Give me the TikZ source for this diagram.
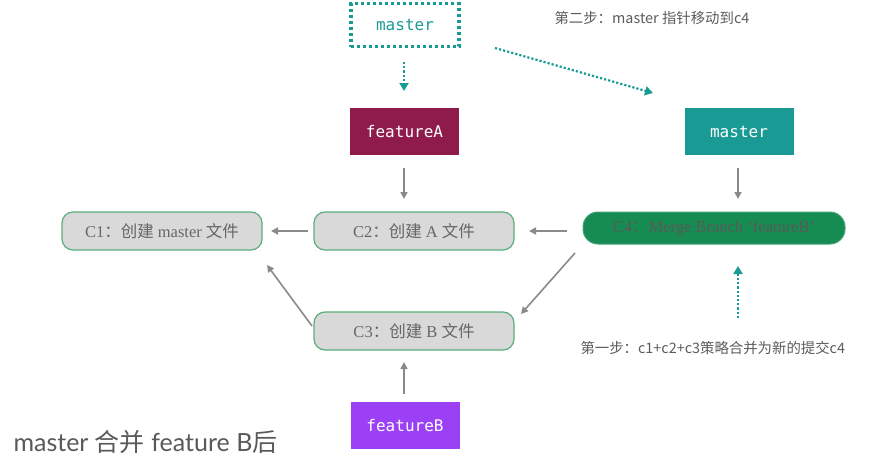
\documentclass[tikz,border=0pt]{standalone}
\usepackage{fontspec}
\setmainfont{Liberation Serif}
\setmonofont{DejaVu Sans Mono}
\newfontfamily\cjk{Noto Sans CJK SC}
\newfontfamily\latofont{Lato}
\usetikzlibrary{arrows.meta}
\definecolor{teal1}{HTML}{1A9A95}
\definecolor{fa}{HTML}{8E1B4B}
\definecolor{fb}{HTML}{9B40F5}
\definecolor{c4g}{HTML}{168C52}
\definecolor{boxfill}{HTML}{D9D9D9}
\definecolor{boxline}{HTML}{5AAE7A}
\definecolor{arrowgray}{HTML}{8A8A8A}
\definecolor{txtgray}{HTML}{666666}
\newcommand{\zh}[1]{{\cjk #1}}
\begin{document}
\begin{tikzpicture}[x=1pt,y=-1pt,
  commit/.style={draw=boxline, line width=1.2pt, fill=boxfill, rounded corners=11pt,
     minimum width=200pt, minimum height=38pt, text=txtgray, font=\fontsize{16.5}{19}\selectfont},
  branch/.style={minimum width=109pt, minimum height=47pt, text=white, font=\ttfamily\fontsize{16}{19}\selectfont},
  grayarrow/.style={draw=arrowgray, line width=1.6pt, -{Triangle[length=7pt,width=7pt]}},
  dotarrow/.style={draw=teal1, line width=2.2pt, dotted, -{Triangle[length=8pt,width=9pt]}},
  steplabel/.style={text=txtgray!90!black, font=\cjk\fontsize{14.4}{17}\selectfont}
]
\useasboundingbox (0,0) rectangle (873,463);
% top master (dotted)
\node[branch, draw=teal1, line width=3.2pt, dash pattern=on 3pt off 3pt, text=teal1,
  minimum width=108pt, minimum height=43pt] (mtop) at (405,25) {master};
\node[branch, fill=fa] (fA) at (404.5,131.5) {featureA};
\node[branch, fill=teal1] (mR) at (739,131.5) {master};
\node[branch, fill=fb] (fB) at (405,425.5) {featureB};

\node[commit] (c1) at (162,231) {C1\zh{：}\zh{创建} master \zh{文件}};
\node[commit] (c2) at (414,231) {C2\zh{：}\zh{创建} A \zh{文件}};
\node[commit] (c3) at (414,331) {C3\zh{：}\zh{创建} B \zh{文件}};
\node[draw=c4g!80!white, line width=1pt, fill=c4g, rounded corners=15pt, minimum width=262pt,
  minimum height=32pt, text=black!65, font=\fontsize{16.5}{19}\selectfont] (c4) at (714,228)
  {C4\zh{：}Merge Branch ‘featureB’};

\node[steplabel, anchor=west] (s2) at (551,18) {第二步：master 指针移动到c4};
\node[steplabel, anchor=west] (s1) at (577,348) {第一步：c1+c2+c3策略合并为新的提交c4};
\node[anchor=west, text=black!65, font=\latofont\fontsize{25}{29}\selectfont] (title) at (10,442)
  {master \zh{合并} feature B\zh{后}};

\coordinate (d1s) at (404,62);
\coordinate (d1e) at (404,91);
\coordinate (d2s) at (495,48);
\coordinate (d2e) at (653,93);
\coordinate (d3s) at (738,318);
\coordinate (d3e) at (738,266);
\draw[dotarrow] (d1s) -- (d1e);
\draw[dotarrow] (d2s) -- (d2e);
\draw[dotarrow] (d3s) -- (d3e);

\coordinate (a1s) at (404,168); \coordinate (a1e) at (404,199);
\coordinate (a2s) at (738,168); \coordinate (a2e) at (738,199);
\coordinate (a3s) at (308,231); \coordinate (a3e) at (271,231);
\coordinate (a4s) at (567,231); \coordinate (a4e) at (529,231);
\coordinate (a5s) at (312,326); \coordinate (a5e) at (267,265);
\coordinate (a6s) at (575,253); \coordinate (a6e) at (521,314);
\coordinate (a7s) at (404,394); \coordinate (a7e) at (404,362);
\draw[grayarrow] (a1s) -- (a1e);
\draw[grayarrow] (a2s) -- (a2e);
\draw[grayarrow] (a3s) -- (a3e);
\draw[grayarrow] (a4s) -- (a4e);
\draw[grayarrow] (a5s) -- (a5e);
\draw[grayarrow] (a6s) -- (a6e);
\draw[grayarrow] (a7s) -- (a7e);
\end{tikzpicture}
\end{document}
